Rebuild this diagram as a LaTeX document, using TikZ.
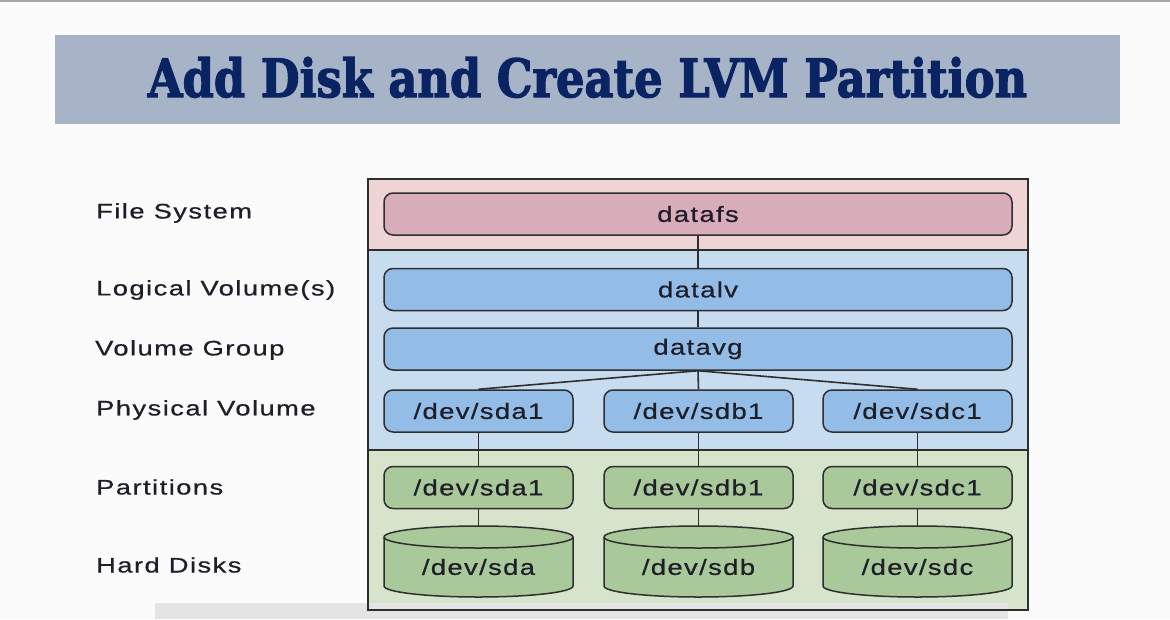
\documentclass[tikz,border=0pt]{standalone}
\usepackage{fontspec}
\setmainfont{Liberation Sans}
\newfontfamily\lblfont[FakeStretch=1.3,LetterSpace=7,FakeBold=0.6]{Liberation Sans}
\newfontfamily\boxfont[FakeStretch=1.25,LetterSpace=6,FakeBold=0.6]{Liberation Sans}
\newfontfamily\titlefont[FakeBold=2.5]{DejaVu Serif}
\definecolor{bg}{HTML}{FBFBFB}
\definecolor{titlebg}{HTML}{A7B3C7}
\definecolor{titlefg}{HTML}{0A2463}
\definecolor{pinkband}{HTML}{EFD4D6}
\definecolor{pinkbox}{HTML}{D8ACB9}
\definecolor{blueband}{HTML}{C8DCF0}
\definecolor{bluebox}{HTML}{93BDE7}
\definecolor{greenband}{HTML}{D6E4CC}
\definecolor{greenbox}{HTML}{AAC99A}
\definecolor{edge}{HTML}{2E2E2E}
\definecolor{txt}{HTML}{1E1E28}
\definecolor{bar}{HTML}{E4E4E4}
\begin{document}
\begin{tikzpicture}[x=1pt,y=-1pt,
  lbl/.style={anchor=west,inner sep=0pt,font=\lblfont\fontsize{21}{24}\selectfont,text=txt},
  boxbase/.style={draw=edge,line width=1.5pt,rounded corners=9pt,inner sep=0pt,
    font=\boxfont\fontsize{22}{26}\selectfont,text=txt,minimum height=42pt},
  widebox/.style={boxbase,minimum width=628pt},
  smallbox/.style={boxbase,minimum width=189pt},
  link/.style={draw=edge,line width=1.6pt},
  disklbl/.style={inner sep=0pt,font=\boxfont\fontsize{22}{26}\selectfont,text=txt}
]
\useasboundingbox (0,0) rectangle (1170,619);
\fill[bg] (0,0) rectangle (1170,619);
\draw[gray!70,line width=1.5pt] (0,0.75) -- (1170,0.75);
% title
\fill[titlebg] (55,35) rectangle (1120,124);
\node[inner sep=0pt,anchor=base,text=titlefg] (title) at (587.5,97)
  {\resizebox{879pt}{40pt}{\titlefont\bfseries Add Disk and Create LVM Partition}};
% bands
\fill[pinkband] (368,179) rectangle (1028,250);
\fill[blueband] (368,250) rectangle (1028,450);
\fill[greenband] (368,450) rectangle (1028,610);
\fill[bar] (155,603) rectangle (1008,619);
\draw[edge,line width=1.6pt] (368,179) rectangle (1028,610);
\draw[edge,line width=1.6pt] (368,250) -- (1028,250);
\draw[edge,line width=1.6pt] (368,450) -- (1028,450);
% left labels
\node[lbl] (l1) at (96,213) {File System};
\node[lbl] (l2) at (96,290) {Logical Volume(s)};
\node[lbl] (l3) at (95,350) {Volume Group};
\node[lbl] (l4) at (96,410) {Physical Volume};
\node[lbl] (l5) at (96,487) {Partitions};
\node[lbl] (l6) at (96,565) {Hard Disks};
% boxes
\node[widebox,fill=pinkbox] (fs) at (698,214) {datafs};
\node[widebox,fill=bluebox] (lv) at (698,289.5) {datalv};
\node[widebox,fill=bluebox] (vg) at (698,349) {datavg};
\node[smallbox,fill=bluebox] (pva) at (478.5,411) {/dev/sda1};
\node[smallbox,fill=bluebox] (pvb) at (698.5,411) {/dev/sdb1};
\node[smallbox,fill=bluebox] (pvc) at (917.5,411) {/dev/sdc1};
\node[smallbox,fill=greenbox] (pa) at (478.5,487.5) {/dev/sda1};
\node[smallbox,fill=greenbox] (pb) at (698.5,487.5) {/dev/sdb1};
\node[smallbox,fill=greenbox] (pc) at (917.5,487.5) {/dev/sdc1};
% disks
\foreach \cx/\nm/\tx in {478.5/da/sda,698.5/db/sdb,917.5/dc/sdc}{
  \pgfmathsetmacro{\l}{\cx-94.5}
  \pgfmathsetmacro{\r}{\cx+94.5}
  \fill[greenbox] (\l,537) -- (\l,586) arc[start angle=180,end angle=0,x radius=94.5,y radius=11]
     -- (\r,537) arc[start angle=0,end angle=-180,x radius=94.5,y radius=11] -- cycle;
  \draw[edge,line width=1.5pt] (\l,537) -- (\l,586) arc[start angle=180,end angle=0,x radius=94.5,y radius=11]
     -- (\r,537) arc[start angle=0,end angle=-180,x radius=94.5,y radius=11] -- cycle;
  \draw[edge,line width=1.5pt] (\l,537) arc[start angle=180,end angle=0,x radius=94.5,y radius=11];
  \coordinate (\nm top) at (\cx,526);
  \node[disklbl] (\nm) at (\cx,567) {/dev/\tx};
}
% connectors
\draw[link] (fs.south) -- (lv.north);
\draw[link] (lv.south) -- (vg.north);
\draw[link] (vg.south) -- (pva.north);
\draw[link] (vg.south) -- (pvb.north);
\draw[link] (vg.south) -- (pvc.north);
\draw[link] (pva.south) -- (pa.north);
\draw[link] (pvb.south) -- (pb.north);
\draw[link] (pvc.south) -- (pc.north);
\draw[link] (pa.south) -- (datop);
\draw[link] (pb.south) -- (dbtop);
\draw[link] (pc.south) -- (dctop);
\end{tikzpicture}
\end{document}
